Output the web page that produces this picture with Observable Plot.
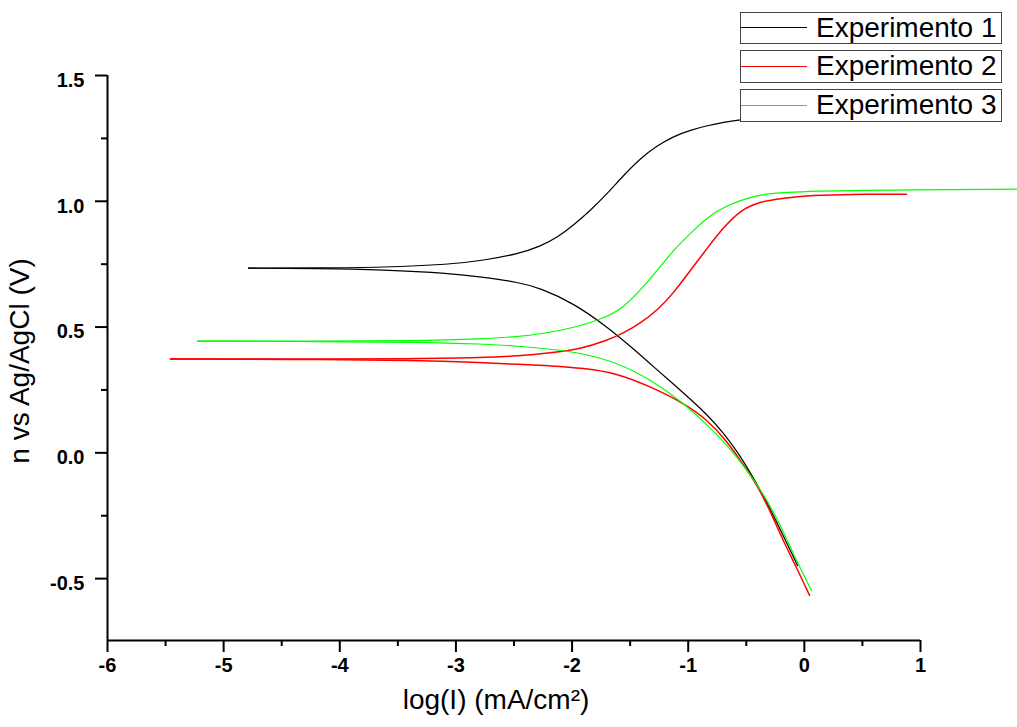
<!DOCTYPE html>
<html>
<head>
<meta charset="utf-8">
<script src="https://cdn.jsdelivr.net/npm/d3@7"></script>
<script src="https://cdn.jsdelivr.net/npm/@observablehq/plot@0.6"></script>
<style>
  html, body { margin: 0; padding: 0; background: white; }
  #wrap { position: relative; width: 1017px; height: 727px; overflow: hidden; font-family: "Liberation Sans", Arial, sans-serif; }
  .leg { position: absolute; left: 740px; width: 262px; box-sizing: border-box; border: 1.5px solid #444; background: white; }
  .leg .sw { position: absolute; left: 0; width: 66px; top: 50%; height: 1px; margin-top: -1px; }
  .leg .tx { position: absolute; left: 75px; top: 0; font-size: 28px; line-height: 30px; color: #000; white-space: nowrap; }
</style>
</head>
<body>
<div id="wrap"></div>
<script>
// ---- data (log(I) vs potential), each branch starts at the corrosion tip ----
const seriesNames = ["Experimento 1", "Experimento 2", "Experimento 3"];
const seriesColors = ["#000000", "#ff0000", "#00ff00"];

// Experimento 1 (black)
const exp1UpperX = [-4.786, -4.2, -3.624, -3.047, -2.763, -2.470, -2.272, -2.125, -1.988, -1.841, -1.695, -1.557, -1.411, -1.264, -1.127, -0.980, -0.834, -0.696, -0.550, -0.300, 0.000, 0.500, 0.900];
const exp1UpperY = [0.734, 0.735, 0.737, 0.749, 0.765, 0.790, 0.821, 0.857, 0.905, 0.964, 1.032, 1.103, 1.171, 1.222, 1.258, 1.283, 1.301, 1.314, 1.325, 1.335, 1.342, 1.347, 1.349];
const exp1LowerX = [-4.786, -4.2, -3.624, -3.047, -2.763, -2.470, -2.272, -1.988, -1.695, -1.471, -1.325, -1.040, -0.834, -0.696, -0.576, -0.464, -0.352, -0.231, -0.119, -0.059];
const exp1LowerY = [0.734, 0.733, 0.728, 0.714, 0.698, 0.679, 0.655, 0.595, 0.500, 0.413, 0.353, 0.238, 0.151, 0.079, 0.004, -0.079, -0.171, -0.282, -0.389, -0.448];

// Experimento 2 (red)
const exp2UpperX = [-5.458, -4.5, -3.305, -2.763, -2.470, -2.186, -1.927, -1.695, -1.557, -1.411, -1.264, -1.127, -0.980, -0.834, -0.696, -0.550, -0.403, -0.205, 0.080, 0.372, 0.880];
const exp2UpperY = [0.373, 0.373, 0.374, 0.378, 0.385, 0.397, 0.413, 0.448, 0.476, 0.516, 0.567, 0.635, 0.726, 0.815, 0.897, 0.964, 0.996, 1.012, 1.024, 1.028, 1.028];
const exp2LowerX = [-5.458, -4.5, -3.305, -2.763, -2.470, -2.186, -1.902, -1.609, -1.325, -1.040, -0.834, -0.662, -0.524, -0.403, -0.291, -0.179, -0.059, 0.045];
const exp2LowerY = [0.373, 0.372, 0.368, 0.358, 0.352, 0.346, 0.337, 0.316, 0.263, 0.198, 0.131, 0.044, -0.048, -0.131, -0.234, -0.353, -0.464, -0.567];

// Experimento 3 (green)
const exp3UpperX = [-5.225, -4.3, -3.331, -2.763, -2.470, -2.272, -1.988, -1.695, -1.557, -1.411, -1.264, -1.127, -0.980, -0.834, -0.696, -0.550, -0.403, -0.205, 0.372, 1.835];
const exp3UpperY = [0.444, 0.444, 0.445, 0.453, 0.462, 0.472, 0.496, 0.540, 0.579, 0.647, 0.726, 0.806, 0.873, 0.937, 0.976, 1.004, 1.024, 1.036, 1.044, 1.048];
const exp3LowerX = [-5.225, -4.3, -3.331, -2.763, -2.470, -2.186, -1.902, -1.609, -1.325, -1.040, -0.834, -0.662, -0.524, -0.378, -0.231, -0.093, 0.062];
const exp3LowerY = [0.444, 0.443, 0.440, 0.433, 0.424, 0.413, 0.395, 0.358, 0.292, 0.198, 0.110, 0.030, -0.050, -0.145, -0.262, -0.405, -0.548];

// axes
const xTicks = [-6, -5, -4, -3, -2, -1, 0, 1];
const xMinorTicks = [-5.5, -4.5, -3.5, -2.5, -1.5, -0.5, 0.5];
const yTicks = [-0.5, 0, 0.5, 1.0, 1.5];
const yMinorTicks = [-0.25, 0.25, 0.75, 1.25];
const xDomain = [-6, 1];
const yDomain = [-0.746, 1.5];
const xTitle = "log(I) (mA/cm²)";
const yTitle = "n vs Ag/AgCl (V)";

// ---- build ----
function branch(key, xs, ys) { return xs.map((x, i) => ({key, x, y: ys[i]})); }
function curve(name, ux, uy, lx, ly) {
  return branch(name + " upper", ux, uy).concat(branch(name + " lower", lx, ly));
}
const d1 = curve(seriesNames[0], exp1UpperX, exp1UpperY, exp1LowerX, exp1LowerY);
const d2 = curve(seriesNames[1], exp2UpperX, exp2UpperY, exp2LowerX, exp2LowerY);
const d3 = curve(seriesNames[2], exp3UpperX, exp3UpperY, exp3LowerX, exp3LowerY);

const font = "\"Liberation Sans\", Arial, sans-serif";
const chart = Plot.plot({
  width: 1017,
  height: 727,
  marginLeft: 107,
  marginRight: 97,
  marginTop: 75,
  marginBottom: 87,
  style: {fontFamily: font, fontSize: "20px", background: "white", overflow: "visible", color: "#000"},
  x: {domain: xDomain, axis: null},
  y: {domain: yDomain, axis: null},
  marks: [
    Plot.line(d1, {x: "x", y: "y", z: "key", stroke: seriesColors[0], strokeWidth: 1.2, curve: "basis"}),
    Plot.line(d2, {x: "x", y: "y", z: "key", stroke: seriesColors[1], strokeWidth: 1.5, curve: "basis"}),
    Plot.line(d3, {x: "x", y: "y", z: "key", stroke: seriesColors[2], strokeWidth: 1.2, curve: "basis"}),
    Plot.ruleX([xDomain[0]], {stroke: "#000", strokeWidth: 2}),
    Plot.ruleY([yDomain[0]], {stroke: "#000", strokeWidth: 2}),
    Plot.axisX({ticks: xTicks, tickSize: 12, strokeWidth: 2, tickFormat: () => "", label: null}),
    Plot.axisX({ticks: xMinorTicks, tickSize: 6, strokeWidth: 2, tickFormat: () => "", label: null}),
    Plot.axisY({ticks: yTicks, tickSize: 12, strokeWidth: 2, tickFormat: () => "", label: null}),
    Plot.axisY({ticks: yMinorTicks, tickSize: 6, strokeWidth: 2, tickFormat: () => "", label: null}),
    Plot.text(xTicks, {x: d => d, frameAnchor: "bottom", dy: 31, text: d => String(d), fontSize: 20, fontWeight: "bold", fill: "#000"}),
    Plot.text(yTicks, {y: d => d, frameAnchor: "left", dx: -23, dy: 5, textAnchor: "end", text: d => d.toFixed(1), fontSize: 20, fontWeight: "bold", fill: "#000"}),
    Plot.text([xTitle], {frameAnchor: "bottom", dx: -18, dy: 68, text: d => d, fontSize: 28, fill: "#000"}),
    Plot.text([yTitle], {frameAnchor: "left", textAnchor: "middle", dx: -87, dy: 3, rotate: -90, text: d => d, fontSize: 28, fill: "#000"})
  ]
});
const wrap = document.getElementById("wrap");
wrap.appendChild(chart);

// legend (boxes over the plot, top-right)
const legTops = [12, 50, 89];
const legHeights = [32, 33, 33];
seriesNames.forEach((name, i) => {
  const box = document.createElement("div");
  box.className = "leg";
  box.style.top = legTops[i] + "px";
  box.style.height = legHeights[i] + "px";
  const sw = document.createElement("div");
  sw.className = "sw";
  sw.style.background = seriesColors[i];
  const tx = document.createElement("div");
  tx.className = "tx";
  tx.textContent = name;
  box.appendChild(sw);
  box.appendChild(tx);
  wrap.appendChild(box);
});
</script>
</body>
</html>
